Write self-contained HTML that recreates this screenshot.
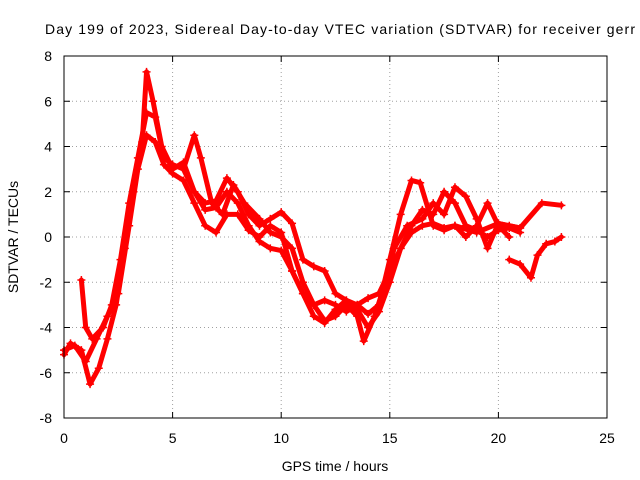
<!DOCTYPE html>
<html><head><meta charset="utf-8"><style>
body{margin:0;background:#fff}
svg{display:block;font-family:"Liberation Sans",sans-serif}
</style></head><body>
<svg id="chart" width="640" height="480" viewBox="0 0 640 480">
<rect width="640" height="480" fill="#fff"/>
<text x="45" y="34" font-size="14" textLength="590" lengthAdjust="spacing">Day 199 of 2023, Sidereal Day-to-day VTEC variation (SDTVAR) for receiver gerr</text>
<g id="grid"></g><g id="series"></g><g id="axes"></g>
<text x="335" y="471" font-size="14" text-anchor="middle">GPS time / hours</text>
<text transform="translate(18,237) rotate(-90)" font-size="14" text-anchor="middle">SDTVAR / TECUs</text>
</svg>
<script>
const xTicks=[0,5,10,15,20,25];
const yTicks=[-8,-6,-4,-2,0,2,4,6,8];
const s1=[[0,-5.2],[0.3,-4.7],[0.8,-5],[1.2,-6.5],[1.6,-5.8],[2,-4.5],[2.4,-3],[2.8,-0.5],[3.2,2],[3.6,4.2],[3.8,7.3],[4.1,6],[4.5,4],[5,3],[5.5,3.3],[6,2],[6.5,1.5],[7,1.6],[7.5,2.6],[8,2],[8.5,1],[9,0.5],[9.5,0.8],[10,1.1],[10.5,0.6],[11,-1],[11.5,-1.3],[12,-1.5],[12.5,-2.5],[13,-2.8],[13.5,-3],[14,-3.4],[14.5,-3],[15,-1],[15.5,1],[16,2.5],[16.4,2.4],[17,0.5],[17.5,0.3],[18,0.5],[19,0.2],[20,0.6],[21,0.4],[22,1.5],[22.9,1.4]];
const s2=[[0.8,-1.9],[1,-4],[1.3,-4.5],[1.8,-4],[2.2,-3],[2.6,-1],[3,1.5],[3.4,3.5],[3.8,5.5],[4.2,5.3],[4.6,3.5],[5,3.2],[5.5,3],[6,4.5],[6.3,3.5],[6.8,1.5],[7.3,1],[7.8,2.3],[8.3,1.5],[9,0.8],[9.5,0.2],[10,0],[10.5,-0.5],[11,-2],[11.5,-3],[12,-3.7],[12.5,-3.5],[13,-3],[13.5,-3.5],[13.8,-4.6],[14.3,-3.5],[14.8,-2],[15.2,-0.5],[15.8,0.5],[16.5,0.8],[17,1.5],[17.5,1],[18,2.2],[18.5,1.8],[19,0.8],[19.5,-0.5],[20,0.6],[20.5,0.5],[21,0.4]];
const s3=[[0,-5],[0.5,-4.8],[1,-5.5],[1.5,-4.5],[2,-3.5],[2.5,-2.5],[3,0.5],[3.4,3],[3.8,4.5],[4.2,4.2],[4.6,3.2],[5,2.8],[5.5,2.5],[6,1.5],[6.5,0.5],[7,0.2],[7.5,1],[8,1],[8.5,0.3],[9,0],[9.5,0.5],[10,0.2],[10.5,-1.5],[11,-2.5],[11.5,-3.5],[12,-3.8],[12.5,-3.2],[13,-2.8],[13.5,-3.2],[14,-4],[14.5,-3.3],[15,-2],[15.5,-0.5],[16,0.5],[16.5,1.2],[17,1],[17.5,2],[18,1.5],[18.5,0.5],[19,0.3],[19.5,0],[20,0.3],[20.5,0.4],[21,0.2]];
const s4=[[5.5,3],[6,2],[6.5,1.2],[7,1.3],[7.5,2],[8,1.5],[8.5,0.5],[9,-0.2],[9.5,-0.5],[10,-0.6],[10.5,-1.5],[11,-2.5],[11.5,-3],[12,-2.8],[12.5,-3],[13,-3.3],[13.5,-3],[14,-2.7],[14.5,-2.5],[15,-1.5],[15.5,-0.5],[16,0.2],[16.5,0.5],[17,0.6],[17.5,0.4],[18,0.5],[18.5,0],[19,0.5],[19.5,1.5],[20,0.5],[20.5,0]];
const s5=[[20.5,-1],[21,-1.2],[21.5,-1.8],[21.8,-0.8],[22.2,-0.3],[22.6,-0.2],[22.9,0]];
const allSeries=[s1,s2,s3,s4,s5];
const L=64,R=607,T=56,B=418,NS="http://www.w3.org/2000/svg";
const xs=v=>L+(v-0)/(25-0)*(R-L), ys=v=>B-(v+8)/16*(B-T);
function el(t,a,p){const e=document.createElementNS(NS,t);for(const k in a)e.setAttribute(k,a[k]);p.appendChild(e);return e;}
const grid=document.getElementById('grid'),axes=document.getElementById('axes'),ser=document.getElementById('series');
xTicks.forEach(t=>{const x=xs(t);
 if(t>0&&t<25){const g=el('line',{x1:x,x2:x,y1:T,y2:B,stroke:'#a0a0a0','stroke-dasharray':'1,3'},grid);}
 el('line',{x1:x,x2:x,y1:B,y2:B-6,stroke:'#000'},axes);el('line',{x1:x,x2:x,y1:T,y2:T+6,stroke:'#000'},axes);
 const tx=el('text',{x:x,y:B+25,'font-size':14,'text-anchor':'middle'},axes);tx.textContent=t;
 });
yTicks.forEach(t=>{const y=ys(t);
 if(t>-8&&t<8){const g=el('line',{x1:L,x2:R,y1:y,y2:y,stroke:'#a0a0a0','stroke-dasharray':'1,3'},grid);}
 el('line',{x1:L,x2:L+6,y1:y,y2:y,stroke:'#000'},axes);el('line',{x1:R,x2:R-6,y1:y,y2:y,stroke:'#000'},axes);
 const tx=el('text',{x:52,y:y+5,'font-size':14,'text-anchor':'end'},axes);tx.textContent=t;
 });
const fr=el('rect',{x:L,y:T,width:R-L,height:B-T,fill:'none',stroke:'#000'},axes);

allSeries.forEach((s,i)=>{
 const g=el('g',{},ser);
 
 
 el('polyline',{points:s.map(p=>xs(p[0])+','+ys(p[1])).join(' '),fill:'none',stroke:'#f00','stroke-width':5,'stroke-linejoin':'round','stroke-linecap':'round'},g);
 s.forEach(p=>{const x=xs(p[0]),y=ys(p[1]);
  const m=el('path',{d:`M${x-4},${y}H${x+4}M${x},${y-4}V${y+4}`,stroke:'#f00','stroke-width':1.5},g);
  });
});
</script>
</body></html>
